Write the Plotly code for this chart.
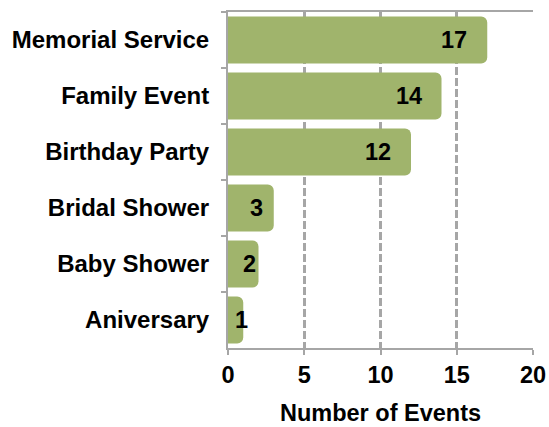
import plotly.graph_objects as go

categories = ["Memorial Service", "Family Event", "Birthday Party",
              "Bridal Shower", "Baby Shower", "Aniversary"]
counts = [17, 14, 12, 3, 2, 1]
x_ticks = [0, 5, 10, 15, 20]

BAR = "#a0b46c"
GRID = "#a6a6a6"
FONT = "Liberation Sans, Arial, sans-serif"


def bold(size):
    return dict(family=FONT, size=size, color="black", weight="bold")


fig = go.Figure()
fig.add_trace(go.Bar(
    x=counts, y=categories, orientation="h",
    marker=dict(color=BAR, line=dict(width=0), cornerradius=6),
    width=0.84,
    hoverinfo="skip",
))

# value labels: right-aligned inside long bars, centred-ish in short ones
for cat, v in zip(categories, counts):
    if v >= 5:
        fig.add_annotation(x=v, y=cat, text=str(v), showarrow=False,
                           xanchor="right", xshift=-18, font=bold(23.5))
    else:
        fig.add_annotation(x=v / 2, y=cat, text=str(v), showarrow=False,
                           xanchor="center", xshift=6, font=bold(23.5))

fig.update_layout(
    width=549, height=427,
    paper_bgcolor="white", plot_bgcolor="white",
    font=bold(23.5),
    margin=dict(l=228, r=16, t=12, b=79),
    showlegend=False,
    xaxis=dict(
        range=[0, 20], tickvals=x_ticks,
        showgrid=True, gridcolor=GRID, griddash="8px,3px", gridwidth=2.5,
        showline=True, linecolor=GRID, linewidth=2, mirror=True,
        ticks="outside", ticklen=5, tickcolor=GRID, tickwidth=2,
        ticklabelstandoff=0,
        zeroline=False, automargin=False,
        title=dict(text="Number of Events", standoff=17, font=bold(23.5)),
        tickfont=bold(23.5),
        fixedrange=True,
    ),
    yaxis=dict(
        categoryorder="array", categoryarray=categories, autorange="reversed",
        showline=True, linecolor=GRID, linewidth=2,
        showgrid=False, ticks="outside", tickson="boundaries",
        ticklen=5, tickcolor=GRID, tickwidth=2, ticklabelstandoff=12,
        tickfont=bold(24), automargin=False,
        fixedrange=True,
    ),
)

fig.write_html("out.html", config={"displayModeBar": False},
               post_script="document.body.style.margin='0px';")
